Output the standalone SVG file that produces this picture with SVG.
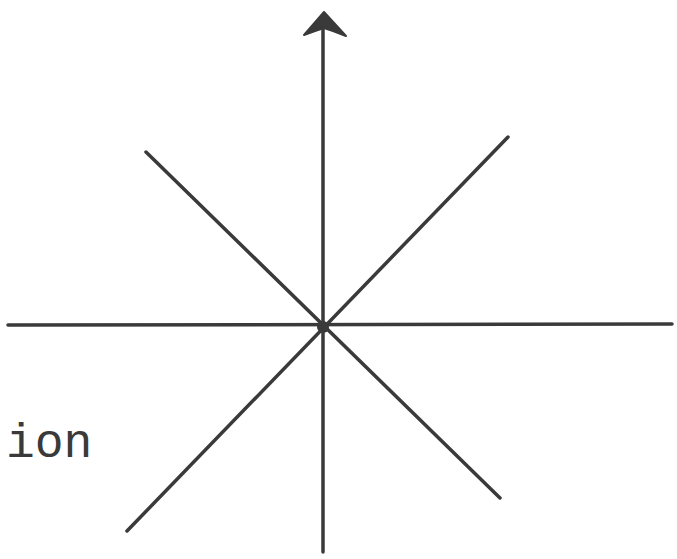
<svg xmlns="http://www.w3.org/2000/svg" width="677" height="559" viewBox="0 0 677 559">
<style>
.ln{stroke:#3a3a3a;stroke-width:3.5;stroke-linecap:round;fill:none}
.lbl{font-family:"Liberation Mono","Courier New",monospace;font-size:48px;fill:#3a3a3a}
</style>
<rect width="677" height="559" fill="#ffffff"/>
<g id="connectors">
<line class="ln" x1="8" y1="325" x2="672" y2="324"/>
<line class="ln" x1="323" y1="16" x2="323" y2="552"/>
<line class="ln" x1="146" y1="152" x2="500" y2="498"/>
<line class="ln" x1="127" y1="531" x2="508" y2="137"/>
<path d="M324,12 L346,36 L333,31 L324,28 L315,31 L304,35 Z" fill="#3a3a3a" stroke="#3a3a3a" stroke-width="2" stroke-linejoin="round"/>
</g>
<g id="origin">
<circle cx="323" cy="327" r="6" fill="#3a3a3a"/>
</g>
<g id="label">
<text class="lbl" x="6" y="457">ion</text>
</g>
</svg>
